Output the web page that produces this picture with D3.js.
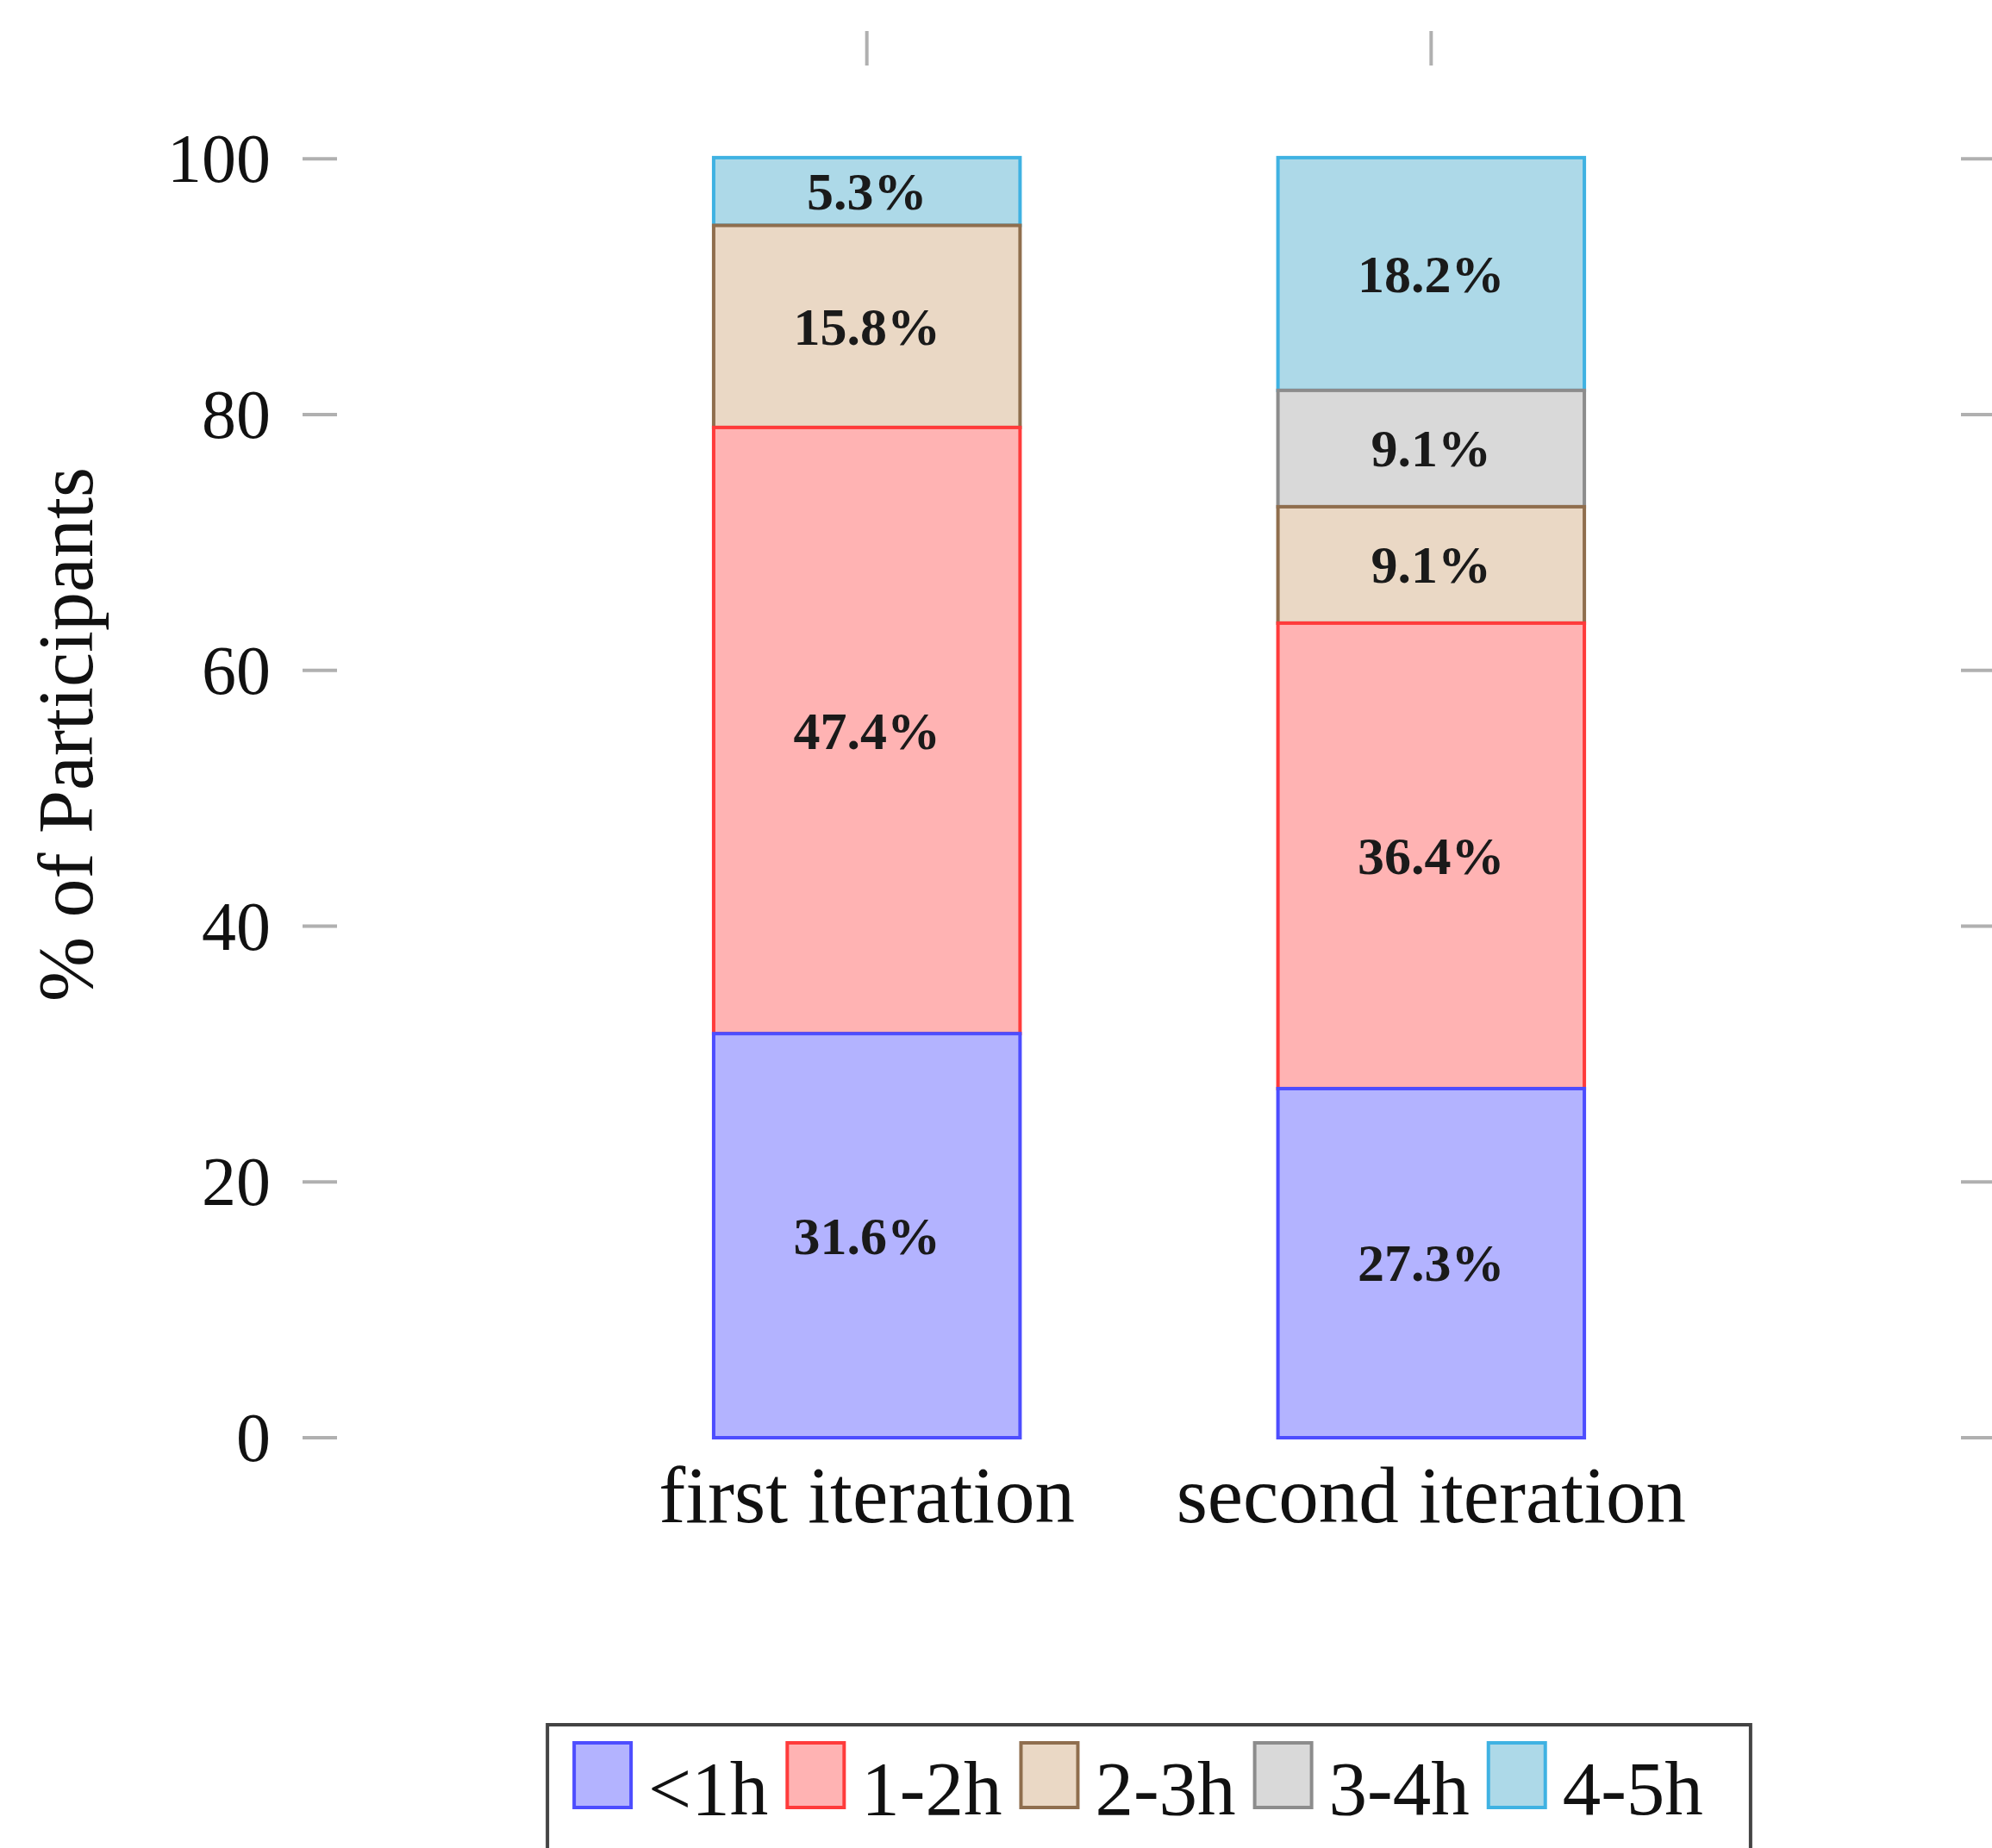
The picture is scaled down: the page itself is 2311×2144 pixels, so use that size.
<!DOCTYPE html>
<html>
<head>
<meta charset="utf-8">
<script src="https://cdn.jsdelivr.net/npm/d3@7"></script>
<style>
  html, body { margin: 0; padding: 0; background: #fff; }
  svg { display: block; }
  text { font-family: "Liberation Serif", "Times New Roman", serif; }
</style>
</head>
<body>
<div id="chart"></div>
<script>
// ---- data ----
const categories = ["first iteration", "second iteration"];
const seriesNames = ["<1h", "1-2h", "2-3h", "3-4h", "4-5h"];
const firstIteration = [31.6, 47.4, 15.8, 0, 5.3];
const secondIteration = [27.3, 36.4, 9.1, 9.1, 18.2];
const yTicks = [0, 20, 40, 60, 80, 100];
const fillColors = ["#b3b3ff", "#ffb3b3", "#ead8c5", "#d9d9d9", "#add9e8"];
const strokeColors = ["#4d4dff", "#ff3b3b", "#8f6e4e", "#8c8c8c", "#3fb2e2"];

// ---- layout ----
const W = 2311, H = 2144;
const axisLeft = 351, axisRight = 2315, axisTop = 36, axisBottom = 1668;
const tickLen = 40;

const table = categories.map((c, i) => {
  const vals = [firstIteration, secondIteration][i];
  const row = { category: c };
  seriesNames.forEach((s, j) => row[s] = vals[j]);
  return row;
});

const svg = d3.select("#chart").append("svg")
  .attr("width", W).attr("height", H)
  .attr("viewBox", `0 0 ${W} ${H}`);

const x = d3.scalePoint().domain(categories).range([axisLeft, axisRight]).padding(1);
const y = d3.scaleLinear().domain([0, 110]).range([axisBottom, axisTop]);
const barW = x.step() * 0.543;

const tickColor = "#b0b0b0";

// bottom ticks (hidden under bars, as in original)
svg.append("g").selectAll("line").data(categories).join("line")
  .attr("x1", d => x(d)).attr("x2", d => x(d))
  .attr("y1", axisBottom).attr("y2", axisBottom - tickLen)
  .attr("stroke", tickColor).attr("stroke-width", 4);

// stacked bars, drawn in reverse series order
const stack = d3.stack().keys(seriesNames);
const stacked = stack(table);
const colorIdx = d3.scaleOrdinal().domain(seriesNames).range(d3.range(seriesNames.length));

const barsG = svg.append("g");
stacked.slice().reverse().forEach(layer => {
  const k = colorIdx(layer.key);
  barsG.append("g").selectAll("rect").data(layer).join("rect")
    .attr("x", d => x(d.data.category) - barW / 2)
    .attr("width", barW)
    .attr("y", d => y(d[1]))
    .attr("height", d => Math.max(0, y(d[0]) - y(d[1])))
    .attr("fill", fillColors[k])
    .attr("stroke", strokeColors[k])
    .attr("stroke-width", 4);
});

// value labels
const labelsG = svg.append("g");
stacked.forEach(layer => {
  labelsG.append("g").selectAll("text").data(layer.filter(d => d[1] - d[0] > 0)).join("text")
    .attr("x", d => x(d.data.category))
    .attr("y", d => (y(d[0]) + y(d[1])) / 2)
    .attr("text-anchor", "middle")
    .attr("dominant-baseline", "central")
    .attr("font-size", 62)
    .attr("font-weight", "bold")
    .attr("fill", "#1a1a1a")
    .text(d => (d[1] - d[0]).toFixed(1) + "%");
});

// left/right axis ticks + labels
const yAxisG = svg.append("g");
yAxisG.selectAll("line.l").data(yTicks).join("line").attr("class", "l")
  .attr("x1", axisLeft).attr("x2", axisLeft + tickLen)
  .attr("y1", d => y(d)).attr("y2", d => y(d))
  .attr("stroke", tickColor).attr("stroke-width", 4);
yAxisG.selectAll("line.r").data(yTicks).join("line").attr("class", "r")
  .attr("x1", axisRight - tickLen).attr("x2", axisRight)
  .attr("y1", d => y(d)).attr("y2", d => y(d))
  .attr("stroke", tickColor).attr("stroke-width", 4);
yAxisG.selectAll("text").data(yTicks).join("text")
  .attr("x", axisLeft - 37)
  .attr("y", d => y(d))
  .attr("text-anchor", "end")
  .attr("dominant-baseline", "central")
  .attr("font-size", 80)
  .attr("fill", "#111")
  .text(d => d);

// top ticks
svg.append("g").selectAll("line").data(categories).join("line")
  .attr("x1", d => x(d)).attr("x2", d => x(d))
  .attr("y1", axisTop).attr("y2", axisTop + tickLen)
  .attr("stroke", tickColor).attr("stroke-width", 4);

// x tick labels
svg.append("g").selectAll("text").data(categories).join("text")
  .attr("x", d => x(d))
  .attr("y", 1766)
  .attr("text-anchor", "middle")
  .attr("font-size", 93)
  .attr("fill", "#111")
  .text(d => d);

// y axis label
svg.append("text")
  .attr("transform", `translate(107, ${(axisTop + axisBottom) / 2}) rotate(-90)`)
  .attr("text-anchor", "middle")
  .attr("font-size", 90)
  .attr("fill", "#111")
  .text("% of Participants");

// legend
const legendG = svg.append("g");
const swW = 66, swH = 75, gapST = 20, gapTS = 22, padL = 31, padR = 55;
const legendTop = 2001, swTop = 2022, textBase = 2105;
const items = seriesNames.map((s, i) => {
  const t = legendG.append("text").attr("font-size", 89).attr("fill", "#111").text(s);
  return { s, i, t, w: t.node().getComputedTextLength() };
});
const contentW = d3.sum(items, d => d.w) + items.length * (swW + gapST) + (items.length - 1) * gapTS;
const boxW = contentW + padL + padR;
const boxX = (axisLeft + axisRight) / 2 - boxW / 2;
legendG.insert("rect", ":first-child")
  .attr("x", boxX).attr("y", legendTop)
  .attr("width", boxW).attr("height", 200)
  .attr("fill", "#fff").attr("stroke", "#444").attr("stroke-width", 4);
let cx = boxX + padL;
items.forEach(d => {
  legendG.append("rect")
    .attr("x", cx).attr("y", swTop).attr("width", swW).attr("height", swH)
    .attr("fill", fillColors[d.i]).attr("stroke", strokeColors[d.i]).attr("stroke-width", 4);
  cx += swW + gapST;
  d.t.attr("x", cx).attr("y", textBase);
  cx += d.w + gapTS;
});
</script>
</body>
</html>
